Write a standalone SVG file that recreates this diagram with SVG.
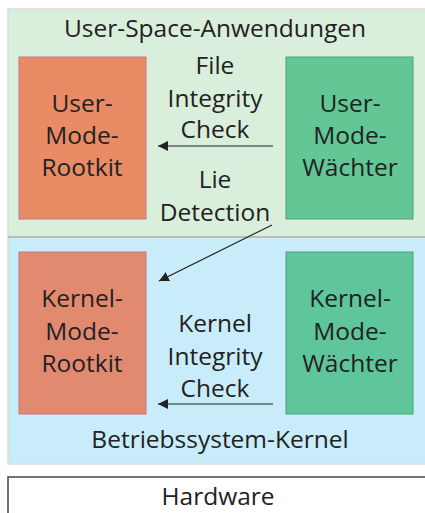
<svg xmlns="http://www.w3.org/2000/svg" width="425" height="513" viewBox="0 0 425 513">
<defs>
<marker id="ah" viewBox="0 0 10 10" refX="10" refY="5" markerWidth="10" markerHeight="10" markerUnits="userSpaceOnUse" orient="auto">
<path d="M0,0 L10,5 L0,10 Z" fill="#222"/>
</marker>
</defs>
<style>
text{font-family:"Open Sans","Noto Sans",sans-serif;font-size:24.5px;fill:#222;text-anchor:middle}
.conn line{stroke:#222;stroke-width:1.2;marker-end:url(#ah)}
</style>
<g id="user-space">
<rect x="8" y="9" width="420" height="228" fill="#d9eedb" stroke="#dcdcdc" stroke-width="1.5"/>
<text x="215" y="37">User-Space-Anwendungen</text>
</g>
<g id="kernel-space">
<rect x="8" y="237" width="420" height="227" fill="#c9ecfb" stroke="#dcdcdc" stroke-width="1.5"/>
<line x1="8" y1="237" x2="425" y2="237" stroke="#b0b0b0" stroke-width="1.5"/>
<text x="220" y="448">Betriebssystem-Kernel</text>
</g>
<g id="hardware">
<rect x="8" y="477" width="420" height="40" fill="#ffffff" stroke="#444" stroke-width="1.5"/>
<text x="218" y="505">Hardware</text>
</g>
<g id="user-rootkit">
<rect x="19" y="57" width="127" height="162" fill="#e98b65" stroke="#c4778a" stroke-width="1"/>
<text x="82" y="112">User-</text>
<text x="82" y="144">Mode-</text>
<text x="82" y="176">Rootkit</text>
</g>
<g id="user-waechter">
<rect x="286" y="57" width="127" height="162" fill="#63c795" stroke="#4e9f78" stroke-width="1"/>
<text x="350" y="112">User-</text>
<text x="350" y="144">Mode-</text>
<text x="350" y="176">Wächter</text>
</g>
<g id="kernel-rootkit">
<rect x="19" y="252" width="127" height="162" fill="#e28a70" stroke="#c4778a" stroke-width="1"/>
<text x="82" y="307">Kernel-</text>
<text x="82" y="340">Mode-</text>
<text x="82" y="372">Rootkit</text>
</g>
<g id="kernel-waechter">
<rect x="286" y="252" width="127" height="162" fill="#5fc59b" stroke="#4e9f78" stroke-width="1"/>
<text x="350" y="307">Kernel-</text>
<text x="350" y="340">Mode-</text>
<text x="350" y="372">Wächter</text>
</g>
<g id="labels">
<text x="215" y="74">File</text>
<text x="215" y="107">Integrity</text>
<text x="215" y="138">Check</text>
<text x="215" y="188">Lie</text>
<text x="215" y="221">Detection</text>
<text x="215" y="332">Kernel</text>
<text x="215" y="365">Integrity</text>
<text x="215" y="397">Check</text>
</g>
<g class="conn" id="connectors">
<line x1="273" y1="146" x2="158" y2="146"/>
<line x1="272" y1="225" x2="159" y2="281"/>
<line x1="273" y1="404" x2="158" y2="404"/>
</g>
</svg>
